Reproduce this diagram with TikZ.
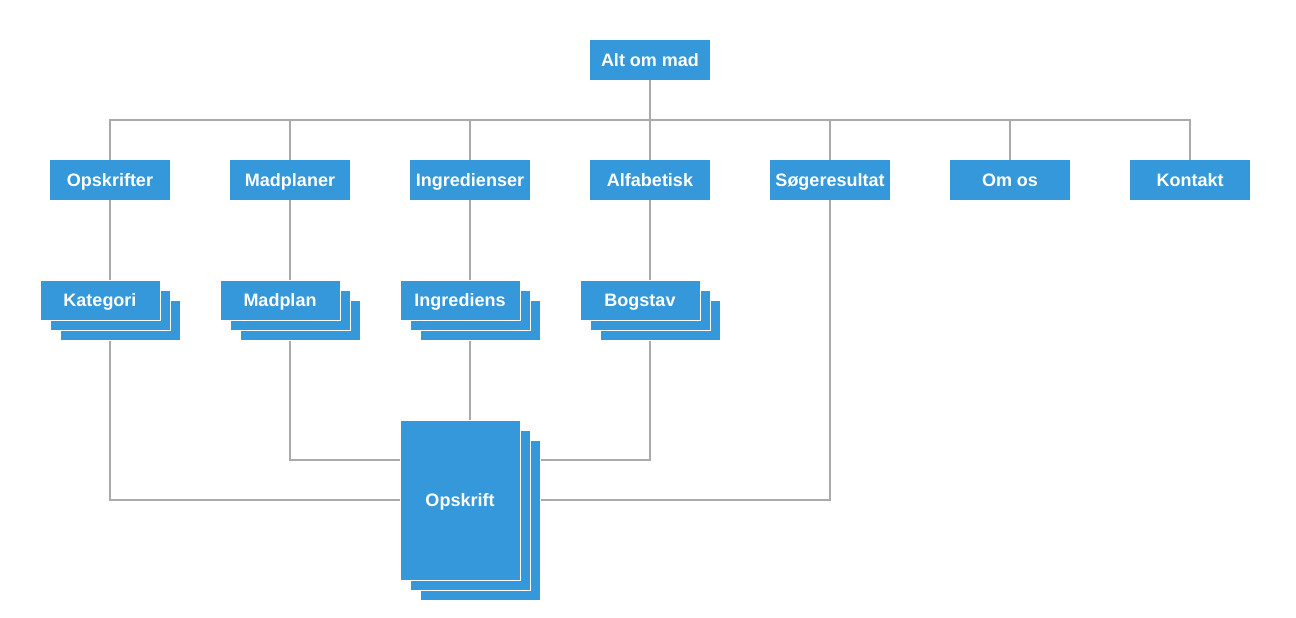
\documentclass[tikz,border=0pt]{standalone}
\usepackage{fontspec}
\setmainfont{Liberation Sans}
\definecolor{boxblue}{HTML}{3498DB}
\definecolor{linegray}{HTML}{AAAAAA}
\begin{document}
\begin{tikzpicture}[x=1pt,y=-1pt,
  box/.style={fill=boxblue,text=white,font=\fontsize{18}{20}\selectfont\bfseries,
    minimum width=120pt,minimum height=40pt,inner sep=0pt,text height=13pt,text depth=0pt},
  sbox/.style={box,draw=white,line width=1pt},
  bigbox/.style={sbox,minimum height=160pt},
  conn/.style={draw=linegray,line width=1.4pt}]
\useasboundingbox (0,0) rectangle (1296,618);
\coordinate (j1) at (0,460);
\coordinate (j2) at (0,500);
% top
\node[box] (alt) at (650,60) {Alt om mad};
% row 2
\node[box] (opsk) at (110,180) {Opskrifter};
\node[box] (madp) at (290,180) {Madplaner};
\node[box] (ingr) at (470,180) {Ingredienser};
\node[box] (alf)  at (650,180) {Alfabetisk};
\node[box] (soeg) at (830,180) {Søgeresultat};
\node[box] (om)   at (1010,180) {Om os};
\node[box] (kont) at (1190,180) {Kontakt};
% stacks
\node[sbox] (katC) at (120,320) {};
\node[sbox] (katB) at (110,310) {};
\node[sbox] (kat)  at (100,300) {Kategori};
\node[sbox] (madC) at (300,320) {};
\node[sbox] (madB) at (290,310) {};
\node[sbox] (mad)  at (280,300) {Madplan};
\node[sbox] (ingC) at (480,320) {};
\node[sbox] (ingB) at (470,310) {};
\node[sbox] (ing)  at (460,300) {Ingrediens};
\node[sbox] (bogC) at (660,320) {};
\node[sbox] (bogB) at (650,310) {};
\node[sbox] (bog)  at (640,300) {Bogstav};
% big
\node[bigbox] (opskC) at (480,520) {};
\node[bigbox] (opskB) at (470,510) {};
\node[bigbox] (opskrift) at (460,500) {Opskrift};
% connectors
\draw[conn] (alt.south) -- ++(0,40);
\draw[conn] (opsk.north) -- ++(0,-40) -| (kont.north);
\foreach \n in {madp,ingr,alf,soeg,om}{\draw[conn] (\n.north) -- ++(0,-40);}
\draw[conn] (opsk.south) -- (opsk.south |- kat.north);
\draw[conn] (madp.south) -- (madp.south |- mad.north);
\draw[conn] (ingr.south) -- (ingr.south |- ing.north);
\draw[conn] (alf.south) -- (alf.south |- bog.north);
\draw[conn] (opsk.south |- katC.south) |- (opskrift.west |- j2);
\draw[conn] (madp.south |- madC.south) |- (opskrift.west |- j1);
\draw[conn] (ingr.south |- ingC.south) -- (ingr.south |- opskrift.north);
\draw[conn] (alf.south |- bogC.south) |- (opskC.east |- j1);
\draw[conn] (soeg.south) |- (opskC.east |- j2);
\end{tikzpicture}
\end{document}
